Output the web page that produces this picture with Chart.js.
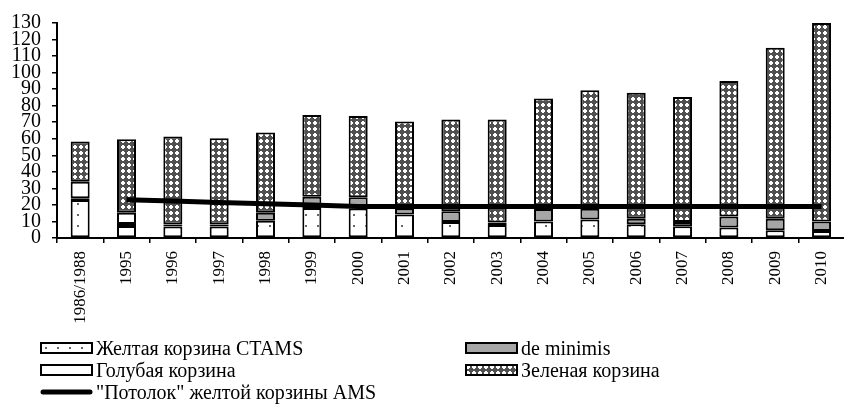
<!DOCTYPE html>
<html>
<head>
<meta charset="utf-8">
<script src="https://cdn.jsdelivr.net/npm/chart.js@4.4.1/dist/chart.umd.min.js"></script>
<style>
html, body { margin: 0; padding: 0; background: #fff; overflow: hidden; }
#wrap { position: relative; width: 850px; height: 404px; }
#legend { position: absolute; left: 40px; top: 337px; display: grid; grid-template-columns: 425px auto;
  font-family: 'Liberation Serif', serif; font-size: 20px; color: #000; }
.item { display: flex; align-items: center; height: 22px; white-space: nowrap; }
.item canvas { margin-right: 3px; }
</style>
</head>
<body>
<div id="wrap">
  <canvas id="chart" width="850" height="404"></canvas>
  <div id="legend"></div>
</div>
<script>
const categories = ['1986/1988', '1995', '1996', '1997', '1998', '1999', '2000', '2001', '2002',
                    '2003', '2004', '2005', '2006', '2007', '2008', '2009', '2010'];
const yellowCtams = [23, 7.3, 6.9, 6.9, 10.5, 18.1, 17.9, 14.2, 9.6, 7.8, 10.0, 11.2, 8.3, 7.1, 6.3, 4.7, 4.3];
const deMinimis   = [1, 1.2, 1.3, 1.2, 4.7, 6.9, 6.7, 3.7, 6.5, 1.5, 7.5, 6.5, 3.3, 2.5, 6.7, 6.9, 5.7];
const blueBox     = [10, 6.7, 0, 0, 0, 0, 0, 0, 0, 0, 0, 0, 0, 0, 0, 0, 0];
const greenBox    = [24.3, 44.5, 53.1, 52.2, 48.6, 49.3, 49.1, 52.6, 55.6, 62.4, 66.8, 71.7, 76.3, 75.7, 82.0, 103.5, 120.0];
const amsCeiling  = [null, 23.1, 22.3, 21.5, 20.7, 19.9, 19.1, 19.1, 19.1, 19.1, 19.1, 19.1, 19.1, 19.1, 19.1, 19.1, 19.1];
const yTicks = { min: 0, max: 130, step: 10 };

const serif = 'Liberation Serif';

// узоры заливки
function makePattern(kind) {
    const c = document.createElement('canvas');
    const ctx = c.getContext('2d');
    if (kind === 'dots') {
        c.width = 12; c.height = 11;
        ctx.fillStyle = '#fff'; ctx.fillRect(0, 0, 12, 11);
        ctx.fillStyle = '#666'; ctx.fillRect(5, 5, 2, 2);
    } else {
        c.width = 6; c.height = 6;
        ctx.fillStyle = '#505050'; ctx.fillRect(0, 0, 6, 6);
        ctx.fillStyle = '#fff';
        ctx.fillRect(1, 2, 4, 2);
        ctx.fillRect(2, 1, 2, 4);
    }
    return ctx.createPattern(c, 'repeat');
}

const dotsFill = makePattern('dots');
const checkFill = makePattern('check');

const barBase = { borderColor: '#000', borderWidth: 2, borderSkipped: false, stack: 'amb', order: 1 };

const chart = new Chart(document.getElementById('chart'), {
    type: 'bar',
    data: {
        labels: categories,
        datasets: [
            { ...barBase, label: 'Желтая корзина CTAMS', data: yellowCtams, backgroundColor: dotsFill },
            { ...barBase, label: 'de minimis', data: deMinimis, backgroundColor: '#a6a6a6' },
            { ...barBase, label: 'Голубая корзина', data: blueBox, backgroundColor: '#fff' },
            { ...barBase, label: 'Зеленая корзина', data: greenBox, backgroundColor: checkFill },
            {
                type: 'line', label: '"Потолок" желтой корзины AMS', data: amsCeiling, stack: 'ceiling', order: 0,
                borderColor: '#000', borderWidth: 5, pointRadius: 0, tension: 0, fill: false
            }
        ]
    },
    options: {
        responsive: false,
        animation: false,
        categoryPercentage: 1,
        barPercentage: 0.41,
        layout: { padding: { top: 19, right: 2, bottom: 76, left: 0 } },
        plugins: { legend: { display: false }, tooltip: { enabled: false } },
        scales: {
            x: {
                stacked: true,
                grid: { offset: true, drawOnChartArea: false, tickLength: 5, color: '#000', lineWidth: 1.5 },
                border: { color: '#000', width: 2 },
                ticks: { color: '#000', font: { family: serif, size: 17 }, minRotation: 90, maxRotation: 90, padding: 8, autoSkip: false },
                afterFit(scale) { scale.height = 90; }
            },
            y: {
                stacked: true,
                min: yTicks.min, max: yTicks.max,
                grid: { drawOnChartArea: false, tickLength: 5, color: '#000', lineWidth: 1.5 },
                border: { color: '#000', width: 2 },
                ticks: { stepSize: yTicks.step, autoSkip: false, color: '#000', font: { family: serif, size: 20 }, padding: 11 },
                afterFit(scale) { scale.width = 57; }
            }
        }
    }
});

// легенда
function swatch(ds) {
    const c = document.createElement('canvas');
    c.width = 53; c.height = 12;
    const ctx = c.getContext('2d');
    if (ds.type === 'line') {
        ctx.strokeStyle = '#000'; ctx.lineWidth = 5; ctx.lineCap = 'round';
        ctx.beginPath(); ctx.moveTo(3, 6); ctx.lineTo(50, 6); ctx.stroke();
    } else {
        ctx.fillStyle = ds.backgroundColor; ctx.fillRect(1, 1, 51, 10);
        ctx.strokeStyle = '#000'; ctx.lineWidth = 2; ctx.strokeRect(1, 1, 51, 10);
    }
    return c;
}

const legendEl = document.getElementById('legend');
chart.data.datasets.forEach(ds => {
    const item = document.createElement('div');
    item.className = 'item';
    item.appendChild(swatch(ds));
    const span = document.createElement('span');
    span.textContent = ds.label;
    item.appendChild(span);
    legendEl.appendChild(item);
});
</script>
</body>
</html>
